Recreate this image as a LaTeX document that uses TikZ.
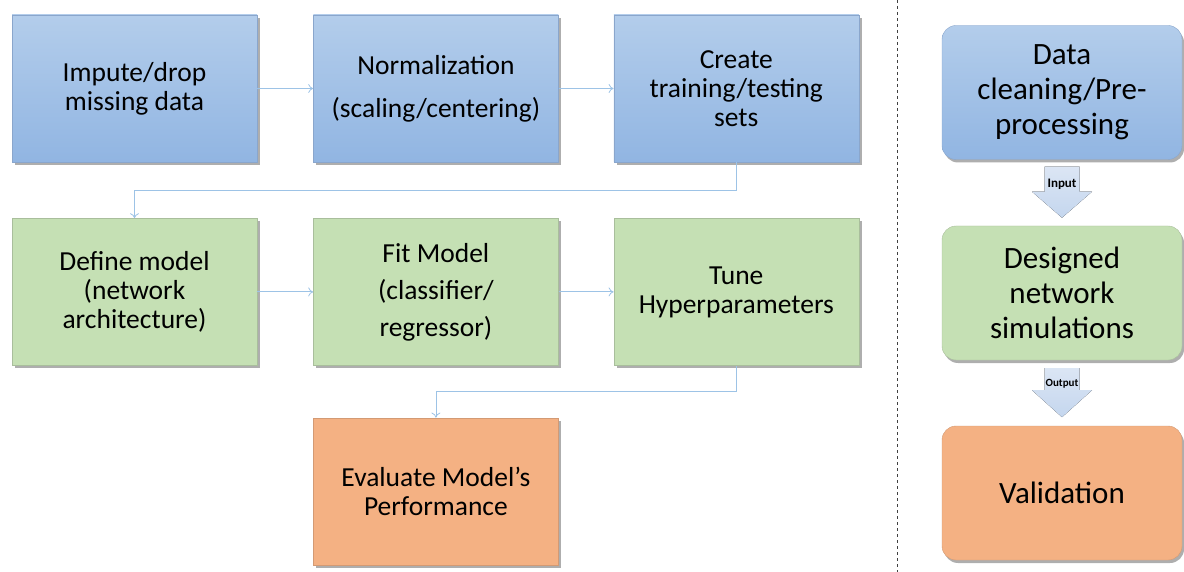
\documentclass[tikz,border=0pt]{standalone}
\usepackage{fontspec}
\setmainfont{Carlito}
\usetikzlibrary{positioning,shadows,arrows.meta}
\definecolor{bluetop}{HTML}{B3CDEB}
\definecolor{bluebot}{HTML}{91B5E2}
\definecolor{blueline}{HTML}{8AA6CC}
\definecolor{greenfill}{HTML}{C5E0B4}
\definecolor{greenline}{HTML}{A9BE9C}
\definecolor{orangefill}{HTML}{F4B183}
\definecolor{orangeline}{HTML}{D39A74}
\definecolor{linkblue}{HTML}{9DC3E6}
\definecolor{arrowtop}{HTML}{DFE8F5}
\definecolor{arrowbot}{HTML}{C4D6EE}
\tikzset{
  box/.style={rectangle, minimum width=245pt, minimum height=147pt, align=center,
    font=\fontsize{27.5}{29}\selectfont,
    drop shadow={shadow xshift=3pt,shadow yshift=-3pt,fill=black!70,opacity=.45}},
  prep/.style={box, top color=bluetop, bottom color=bluebot, draw=blueline},
  model/.style={box, fill=greenfill, draw=greenline},
  evalbox/.style={box, fill=orangefill, draw=orangeline},
  flow/.style={draw=linkblue, line width=0.8pt, -{To[length=5pt,width=9pt]}},
  stage/.style={rectangle, rounded corners=14pt, minimum width=240pt, minimum height=134pt,
    align=center, font=\fontsize{31}{35}\selectfont,
    drop shadow={shadow xshift=2pt,shadow yshift=-3pt,fill=black!70,opacity=.45}},
  bigarrow/.style={top color=arrowtop, bottom color=arrowbot},
}
\begin{document}
\begin{tikzpicture}[x=1pt,y=-1pt]
\useasboundingbox (0,0) rectangle (1184,572);
% pipeline, left part
\node[prep] (impute) at (134.5,88.5) {Impute/drop\\missing data};
\node[prep, right=56pt of impute] (norm) {Normalization\\[14pt](scaling/centering)};
\node[prep, right=55pt of norm] (split) {Create\\training/testing\\sets};
\node[model, below=56pt of impute] (define) {Define model\\(network\\architecture)};
\node[model, below=56pt of norm] (fit) {Fit Model\\[8pt](classifier/\\[8pt]regressor)};
\node[model, below=56pt of split] (tune) {Tune\\Hyperparameters};
\node[evalbox, below=52pt of fit] (evaluate) {Evaluate Model's\\Performance};
\draw[flow] (impute) -- (norm);
\draw[flow] (norm) -- (split);
\draw[flow] (split.south) -- ++(0,28) -| (define.north);
\draw[flow] (define) -- (fit);
\draw[flow] (fit) -- (tune);
\draw[flow] (tune.south) -- ++(0,26) -| (evaluate.north);
% separator
\coordinate (septop) at (897,0);
\coordinate (sepbot) at (897,572);
\draw[black!75, line width=1pt, dash pattern=on 3pt off 3pt] (septop) -- (sepbot);
% overview, right part
\node[stage, top color=bluetop, bottom color=bluebot, draw=blueline] (clean) at (1062,92.5) {Data\\cleaning/Pre-\\processing};
\node[stage, fill=greenfill, draw=greenline] (sim) at (1062,293) {Designed\\network\\simulations};
\node[stage, fill=orangefill, draw=orangeline] (valid) at (1062,493) {Validation};
\fill[bigarrow] (clean.south) ++(-17.5,7) -- ++(35,0) -- ++(0,25) -- ++(12.5,0)
  -- ++(-30,26) -- ++(-30,-26) -- ++(12.5,0) -- cycle;
\node[font=\bfseries\fontsize{13}{15}\selectfont] (input) at ([yshift=-25pt]clean.south) {Input};
\fill[bigarrow] (sim.south) ++(-17.5,8) -- ++(35,0) -- ++(0,22) -- ++(12.5,0)
  -- ++(-30,27) -- ++(-30,-27) -- ++(12.5,0) -- cycle;
\node[font=\bfseries\fontsize{11}{13}\selectfont] (output) at ([yshift=-24pt]sim.south) {Output};
\end{tikzpicture}
\end{document}
